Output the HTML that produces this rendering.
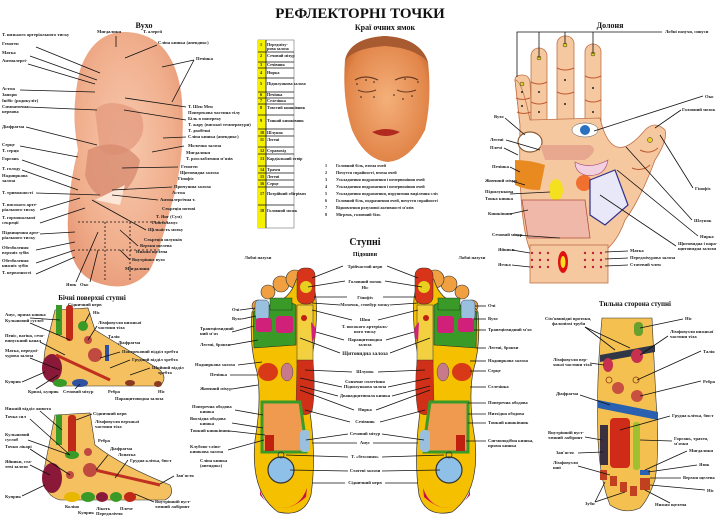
<!DOCTYPE html>
<html><head><meta charset="utf-8"><style>
html,body{margin:0;padding:0;background:#fff;}
svg{display:block;font-family:"Liberation Serif","Noto Serif CJK SC",serif;}
.t{font-size:4.6px;font-weight:bold;fill:#222;}
.h{font-weight:bold;fill:#111;}
line,polyline{stroke:#111;stroke-width:0.8;fill:none;}
</style></head><body>
<svg width="720" height="528" viewBox="0 0 720 528" xmlns="http://www.w3.org/2000/svg">
<defs>
<radialGradient id="ear" cx="50%" cy="45%" r="60%"><stop offset="0" stop-color="#f7c9ae"/><stop offset="0.7" stop-color="#f0ae8c"/><stop offset="1" stop-color="#e89a78"/></radialGradient>
<radialGradient id="face" cx="50%" cy="50%" r="60%"><stop offset="0" stop-color="#f4b07a"/><stop offset="0.8" stop-color="#e2864a"/><stop offset="1" stop-color="#c86a30"/></radialGradient>
<g id="foot">
  <circle cx="258" cy="306" r="6" fill="#f0a040" stroke="#333" stroke-width="0.6"/>
  <circle cx="268" cy="292" r="7" fill="#f0a040" stroke="#333" stroke-width="0.6"/>
  <circle cx="281" cy="284" r="8" fill="#f0a040" stroke="#333" stroke-width="0.6"/>
  <circle cx="295" cy="279" r="9" fill="#f0a040" stroke="#333" stroke-width="0.6"/>
  <path d="M252,312 Q249,345 257,372 Q262,400 255,440 Q250,492 278,512 Q304,518 311,495 Q316,460 311,420 Q306,385 314,345 Q320,300 312,282 Q305,265 296,280 Q290,300 270,305 Q255,305 252,312Z" fill="#f5c000" stroke="#333" stroke-width="0.7"/>
  <rect x="297" y="268" width="18" height="36" rx="7" fill="#d8341a" stroke="#333" stroke-width="0.5"/>
  <circle cx="306" cy="287" r="6" fill="#e8d020"/>
  <path d="M253,312 Q262,306 290,302 L296,305 L296,345 L254,348 Z" fill="#3a9a28" stroke="#222" stroke-width="0.5"/>
  <rect x="255" y="300" width="14" height="20" rx="4" fill="#9ac0e0" stroke="#222" stroke-width="0.4"/>
  <rect x="256" y="318" width="16" height="14" rx="3" fill="#d0207a"/>
  <rect x="276" y="316" width="17" height="17" rx="3" fill="#d0207a"/>
  <rect x="270" y="298" width="22" height="12" fill="#3a9a28" stroke="#222" stroke-width="0.4"/>
  <rect x="297" y="305" width="16" height="58" fill="#f2d040" stroke="#333" stroke-width="0.5"/>
  <circle cx="304" cy="318" r="3" fill="#c02010"/>
  <path d="M311,322 Q320,330 312,342 Z" fill="#d0207a"/>
  <path d="M297,360 L313,360 Q316,390 312,412 Q300,420 296,405 Z" fill="#d03018" stroke="#333" stroke-width="0.4"/>
  <ellipse cx="268" cy="372" rx="10" ry="9" fill="#d83a18"/>
  <ellipse cx="287" cy="372" rx="6" ry="9" fill="#c87a8a" stroke="#333" stroke-width="0.4"/>
  <path d="M262,402 L300,402 L306,445 L306,452 L262,452 Z" fill="#f09a50" stroke="#3a9a28" stroke-width="3"/>
  <rect x="300" y="430" width="10" height="22" rx="4" fill="#9ac0e0"/>
  <rect x="265" y="435" width="9" height="16" fill="#c02010"/>
  <circle cx="281" cy="470" r="13" fill="#8ec0e8" stroke="#333" stroke-width="1.2"/>
  <circle cx="281" cy="455" r="3" fill="none" stroke="#333" stroke-width="0.8"/>
  <path d="M260,495 Q280,520 306,497 L307,488 Q300,508 281,508 Q264,506 260,490 Z" fill="#c8104a"/>
</g>
</defs>

<text x="360" y="18" class="h" font-size="15" text-anchor="middle">РЕФЛЕКТОРНІ  ТОЧКИ</text>

<!-- EAR -->
<text x="144" y="28" class="h" font-size="8" text-anchor="middle">Вухо</text>
<path d="M120,32 Q175,30 182,100 Q186,160 170,210 Q160,250 150,270 Q130,295 95,282 Q65,270 68,215 Q70,180 78,150 Q70,110 80,70 Q92,35 120,32Z" fill="url(#ear)"/>
<path d="M95,110 Q110,95 140,112 Q150,135 130,150 Q110,160 100,150 Z" fill="#e2977a" opacity="0.7"/>
<path d="M88,150 Q120,135 140,160 Q135,190 110,200 Q90,195 85,175Z" fill="#d88c70" opacity="0.8"/>
<path d="M95,200 L125,185 L120,205 Z" fill="#fbe6d8"/>
<g stroke="#fff" stroke-dasharray="2,2" stroke-width="0.6" fill="none"><line x1="78" y1="222" x2="170" y2="222"/><line x1="78" y1="250" x2="160" y2="250"/><line x1="105" y1="222" x2="105" y2="280"/><line x1="130" y1="222" x2="130" y2="280"/></g>
<g class="t">
<text x="2" y="36">Т. низького артеріального тиску</text><text x="2" y="45">Гемогеп</text><text x="2" y="54">Матка</text><text x="2" y="62">Антиалергі-</text><text x="2" y="90">Астма</text><text x="2" y="96">Запори</text><text x="2" y="102">Інібіс (радикуліт)</text><text x="2" y="108">Симпатична</text><text x="2" y="113">нервова</text><text x="2" y="128">Діафрагма</text><text x="2" y="146">Серце</text><text x="2" y="152">Т. серця</text><text x="2" y="160">Горгань</text><text x="2" y="170">Т. голоду</text><text x="2" y="177">Надниркова</text><text x="2" y="182">залоза</text><text x="2" y="194">Т. тривожності</text><text x="2" y="206">Т. високого арте-</text><text x="2" y="211">ріального тиску</text><text x="2" y="219">Т. гормональної</text><text x="2" y="224">секреції</text><text x="2" y="234">Підвищення арте-</text><text x="2" y="239">ріального тиску</text><text x="2" y="249">Обезболення</text><text x="2" y="254">верхніх зубів</text><text x="2" y="262">Обезболення</text><text x="2" y="267">нижніх зубів</text><text x="2" y="274">Т. нервозності</text>
<text x="97" y="33">Мигдалики</text><text x="143" y="33">Т. алергії</text><text x="158" y="44">Сліпа кишка (апендикс)</text><text x="196" y="60">Печінка</text>
<text x="188" y="108">Т. Шен Мен</text><text x="188" y="114">Поперекова частина тілу</text><text x="188" y="120">Біль в попереку</text><text x="188" y="126">Т. жару (високої температури)</text><text x="188" y="132">Т. двобічні</text><text x="188" y="138">Сліпа кишка (апендикс)</text><text x="188" y="147">Молочна залоза</text><text x="186" y="154">Мигдалики</text><text x="186" y="160">Т. розслаблення м'язів</text><text x="181" y="168">Гемогеп</text><text x="180" y="174">Щитовидна залоза</text><text x="178" y="180">Гіпофіз</text><text x="174" y="188">Причушна залоза</text><text x="172" y="194">Астма</text><text x="160" y="201">Антиалергічна т.</text><text x="162" y="210">Секреція потові</text><text x="156" y="218">Т. Янг (Сум)</text><text x="152" y="224">Гіпоталамус</text><text x="148" y="231">Щільність мозку</text><text x="144" y="241">Секреція шлунків</text><text x="140" y="247">Верхня щелепа</text><text x="136" y="253">Нижня щелепа</text><text x="132" y="261">Внутрішнє вухо</text><text x="125" y="270">Мигдалини</text><text x="66" y="286">Язик</text><text x="80" y="286">Око</text>
</g>
<g>
<line x1="36" y1="47" x2="100" y2="73"/><line x1="30" y1="56" x2="97" y2="80"/><line x1="28" y1="64" x2="95" y2="84"/><line x1="20" y1="90" x2="95" y2="92"/><line x1="28" y1="107" x2="97" y2="110"/><line x1="26" y1="127" x2="97" y2="145"/><line x1="20" y1="146" x2="78" y2="157"/><line x1="22" y1="160" x2="80" y2="180"/><line x1="22" y1="170" x2="78" y2="190"/><line x1="36" y1="193" x2="100" y2="195"/><line x1="40" y1="210" x2="80" y2="198"/><line x1="40" y1="223" x2="85" y2="208"/><line x1="40" y1="234" x2="75" y2="232"/><line x1="36" y1="250" x2="75" y2="242"/><line x1="36" y1="263" x2="75" y2="250"/><line x1="36" y1="274" x2="75" y2="257"/>
<line x1="186" y1="107" x2="125" y2="98"/><line x1="186" y1="120" x2="124" y2="110"/><line x1="186" y1="137" x2="163" y2="138"/><line x1="184" y1="146" x2="152" y2="152"/><line x1="178" y1="167" x2="122" y2="168"/><line x1="172" y1="187" x2="112" y2="190"/><line x1="158" y1="200" x2="112" y2="195"/><line x1="146" y1="230" x2="92" y2="200"/><line x1="138" y1="246" x2="120" y2="230"/><line x1="130" y1="260" x2="120" y2="250"/>
<line x1="76" y1="282" x2="98" y2="232"/><line x1="90" y1="282" x2="98" y2="250"/><line x1="157" y1="45" x2="125" y2="58"/><line x1="194" y1="60" x2="162" y2="67"/><line x1="194" y1="60" x2="172" y2="102"/><line x1="116" y1="36" x2="116" y2="47"/>
</g>

<!-- TABLE -->
<g font-size="4.2" font-weight="bold" fill="#222">
<rect x="258" y="40" width="36" height="188" fill="#fff" stroke="#555" stroke-width="0.5"/>
<rect x="258" y="40" width="8" height="188" fill="#f5f000"/>
<g stroke="#666" stroke-width="0.4">
<line x1="258" y1="52" x2="294" y2="52"/><line x1="258" y1="62" x2="294" y2="62"/><line x1="258" y1="68" x2="294" y2="68"/><line x1="258" y1="78" x2="294" y2="78"/><line x1="258" y1="92" x2="294" y2="92"/><line x1="258" y1="98" x2="294" y2="98"/><line x1="258" y1="104" x2="294" y2="104"/><line x1="258" y1="115" x2="294" y2="115"/><line x1="258" y1="129" x2="294" y2="129"/><line x1="258" y1="136" x2="294" y2="136"/><line x1="258" y1="147" x2="294" y2="147"/><line x1="258" y1="154" x2="294" y2="154"/><line x1="258" y1="166" x2="294" y2="166"/><line x1="258" y1="173" x2="294" y2="173"/><line x1="258" y1="180" x2="294" y2="180"/><line x1="258" y1="187" x2="294" y2="187"/><line x1="258" y1="205" x2="294" y2="205"/><line x1="266" y1="40" x2="266" y2="228"/>
</g>
<text x="260" y="46">1</text><text x="267" y="46">Передміху-</text><text x="267" y="50">рова залоза</text>
<text x="260" y="57">2</text><text x="267" y="57">Сечовий міхур</text>
<text x="260" y="66">3</text><text x="267" y="66">Сечівник</text>
<text x="260" y="74">4</text><text x="267" y="74">Нирка</text>
<text x="260" y="85">5</text><text x="267" y="85">Підшлункова залоза</text>
<text x="260" y="96">6</text><text x="267" y="96">Печінка</text>
<text x="260" y="102">7</text><text x="267" y="102">Селезінка</text>
<text x="260" y="109">8</text><text x="267" y="109">Товстий кишківник</text>
<text x="260" y="122">9</text><text x="267" y="122">Тонкий кишківник</text>
<text x="260" y="134">10</text><text x="267" y="134">Шлунок</text>
<text x="260" y="141">11</text><text x="267" y="141">Легені</text>
<text x="260" y="152">12</text><text x="267" y="152">Стравохід</text>
<text x="260" y="160">13</text><text x="267" y="160">Кардіальний отвір</text>
<text x="260" y="171">14</text><text x="267" y="171">Трахея</text>
<text x="260" y="178">15</text><text x="267" y="178">Легені</text>
<text x="260" y="185">16</text><text x="267" y="185">Серце</text>
<text x="260" y="195">17</text><text x="267" y="195">Потрійний обігрівач</text>
<text x="260" y="212">18</text><text x="267" y="212">Головний мозок</text>
</g>

<!-- FACE -->
<text x="385" y="30" class="h" font-size="8" text-anchor="middle">Краї очних ямок</text>
<path d="M345,60 Q350,38 385,36 Q420,38 428,62 Q432,100 425,130 Q410,160 388,162 Q365,160 352,130 Q342,100 345,60Z" fill="url(#face)"/>
<path d="M345,60 Q350,38 385,36 Q420,38 428,62 Q415,48 385,46 Q355,48 345,60Z" fill="#a85a30"/>
<path d="M355,80 Q365,74 378,80" stroke="#6a3a20" stroke-width="1.2" fill="none"/>
<path d="M395,80 Q408,74 418,80" stroke="#6a3a20" stroke-width="1.2" fill="none"/>
<path d="M358,90 Q366,94 376,90" stroke="#6a3a20" stroke-width="1" fill="none"/>
<path d="M397,90 Q406,94 416,90" stroke="#6a3a20" stroke-width="1" fill="none"/>
<path d="M372,132 Q386,126 400,132 Q386,140 372,132Z" fill="#b02a20"/>
<g fill="#222"><circle cx="357" cy="84" r="0.8"/><circle cx="366" cy="80" r="0.8"/><circle cx="374" cy="82" r="0.8"/><circle cx="361" cy="97" r="0.8"/><circle cx="374" cy="97" r="0.8"/><circle cx="394" cy="95" r="0.8"/><circle cx="403" cy="99" r="0.8"/><circle cx="412" cy="96" r="0.8"/><circle cx="405" cy="79" r="0.8"/><circle cx="418" cy="82" r="0.8"/></g>
<g font-size="4.2" font-weight="bold" fill="#222">
<text x="325" y="167">1</text><text x="336" y="167">Головний біль, втома очей</text>
<text x="325" y="174">2</text><text x="336" y="174">Почуття спрайності, втома очей</text>
<text x="325" y="181">3</text><text x="336" y="181">Ускладнення подразнення і почервоніння очей</text>
<text x="325" y="188">4</text><text x="336" y="188">Ускладнення подразнення і почервоніння очей</text>
<text x="325" y="195">5</text><text x="336" y="195">Ускладнення подразнення, порушення виділення сліз</text>
<text x="325" y="202">6</text><text x="336" y="202">Головний біль, подразнення очей, почуття спрайності</text>
<text x="325" y="209">7</text><text x="336" y="209">Відновлення розумової активності м'язів</text>
<text x="325" y="216">8</text><text x="336" y="216">Мігрень, головний біль</text>
</g>

<!-- HAND -->
<text x="610" y="28" class="h" font-size="8" text-anchor="middle">Долоня</text>
<g fill="#f6c8a0" stroke="#c07048" stroke-width="0.8">
<path d="M515,80 Q515,75 522,75 Q529,75 530,82 L532,120 L520,125 Z"/>
<rect x="531" y="48" width="16" height="80" rx="8"/>
<rect x="557" y="36" width="17" height="90" rx="8"/>
<rect x="585" y="44" width="16" height="85" rx="8"/>
<path d="M520,125 L515,80 Q522,80 530,120 L600,118 Q612,170 645,130 Q655,120 665,130 Q668,140 655,160 Q640,200 625,220 Q618,240 606,250 L530,250 Q518,220 520,125Z"/>
<rect x="530" y="245" width="78" height="38" fill="#f6c8a0"/>
</g>
<g stroke="#c05a30" stroke-width="1" fill="none">
<path d="M516,98 Q522,101 530,98"/><path d="M517,112 Q523,115 531,112"/>
<path d="M531,82 Q539,86 547,82"/><path d="M531,102 Q539,106 547,102"/>
<path d="M557,68 Q565,72 574,68"/><path d="M557,92 Q565,96 574,92"/>
<path d="M585,76 Q593,80 601,76"/><path d="M585,100 Q593,104 601,100"/>
<path d="M640,150 Q650,155 658,148"/><path d="M632,168 Q642,172 650,165"/>
</g>
<g fill="#222"><circle cx="522" cy="92" r="1"/><circle cx="522" cy="106" r="1"/><circle cx="539" cy="92" r="1"/><circle cx="539" cy="112" r="1"/><circle cx="565" cy="80" r="1"/><circle cx="565" cy="104" r="1"/><circle cx="593" cy="88" r="1"/><circle cx="593" cy="112" r="1"/></g>
<g fill="#e8d020" stroke="#333" stroke-width="0.5"><circle cx="522" cy="84" r="2"/><circle cx="539" cy="58" r="2"/><circle cx="565" cy="45" r="2"/><circle cx="593" cy="54" r="2"/><circle cx="650" cy="140" r="2.5"/></g>
<ellipse cx="530" cy="142" rx="12" ry="10" fill="#fff" stroke="#8a5a30" stroke-width="1.2"/>
<ellipse cx="585" cy="130" rx="13" ry="7" fill="#fff" stroke="#555" stroke-width="0.5"/>
<circle cx="585" cy="130" r="5" fill="#2a70c0"/>
<path d="M540,145 L590,145 Q600,150 585,160 L545,160Z" fill="#e8a890"/>
<path d="M515,160 Q530,160 545,165 L540,190 Q525,190 515,185Z" fill="#e88a20"/>
<ellipse cx="556" cy="190" rx="7" ry="11" fill="#f5e020"/>
<path d="M575,162 Q590,170 608,160 Q605,178 585,175 Q575,172 575,162Z" fill="#f3d0e0" stroke="#a04070" stroke-width="0.6"/>
<circle cx="584" cy="183" r="8" fill="#f07030"/>
<path d="M590,180 L615,170 L628,205 L605,225 L590,215Z" fill="#e8e8f8" stroke="#303090" stroke-width="1.2"/>
<path d="M522,200 L585,200 L590,238 L528,238Z" fill="#f0b8a8" stroke="#b05040" stroke-width="0.8"/>
<ellipse cx="563" cy="262" rx="5" ry="11" fill="#e01010"/><ellipse cx="563" cy="262" rx="2.5" ry="6" fill="#f8e020"/>
<g fill="#c02040"><circle cx="532" cy="253" r="1.2"/><circle cx="540" cy="253" r="1.2"/><circle cx="548" cy="253" r="1.2"/><circle cx="532" cy="260" r="1.2"/><circle cx="540" cy="260" r="1.2"/><circle cx="548" cy="260" r="1.2"/><circle cx="532" cy="267" r="1.2"/><circle cx="540" cy="267" r="1.2"/><circle cx="548" cy="267" r="1.2"/><circle cx="585" cy="253" r="1.2"/><circle cx="593" cy="253" r="1.2"/><circle cx="601" cy="253" r="1.2"/><circle cx="585" cy="260" r="1.2"/><circle cx="593" cy="260" r="1.2"/><circle cx="601" cy="260" r="1.2"/><circle cx="585" cy="267" r="1.2"/><circle cx="593" cy="267" r="1.2"/><circle cx="601" cy="267" r="1.2"/></g>
<g class="t">
<text x="665" y="33">Лобні пазухи, синуси</text><text x="705" y="98">Око</text><text x="682" y="111">Головний мозок</text><text x="695" y="190">Гіпофіз</text><text x="694" y="222">Шлунок</text><text x="700" y="238">Нирка</text><text x="678" y="245">Щитовидна і пара-</text><text x="678" y="250">щитовидна залози</text>
<text x="494" y="118">Вухо</text><text x="490" y="141">Легені</text><text x="490" y="149">Плечі</text><text x="492" y="168">Печінка</text><text x="485" y="182">Жовчний міхур</text><text x="485" y="193">Підшлункова</text><text x="485" y="200">Тонка кишка</text><text x="488" y="215">Кишківник</text><text x="492" y="236">Сечовий міхур</text><text x="498" y="251">Яйники</text><text x="498" y="266">Яєчка</text>
<text x="630" y="252">Матка</text><text x="630" y="259">Передміхурова залоза</text><text x="630" y="266">Статевий член</text>
</g>
<g>
<polyline points="517,77 517,32 662,32"/><line x1="539" y1="32" x2="539" y2="58"/><line x1="565" y1="32" x2="565" y2="44"/><line x1="593" y1="32" x2="593" y2="54"/>
<line x1="703" y1="96" x2="594" y2="131"/><line x1="681" y1="110" x2="655" y2="128"/><line x1="693" y1="188" x2="660" y2="135"/><line x1="692" y1="220" x2="626" y2="147"/><line x1="698" y1="236" x2="617" y2="170"/><line x1="676" y1="246" x2="600" y2="195"/>
<line x1="505" y1="118" x2="525" y2="135"/><line x1="506" y1="140" x2="540" y2="150"/><line x1="504" y1="148" x2="518" y2="155"/><line x1="510" y1="167" x2="520" y2="172"/><line x1="512" y1="181" x2="525" y2="185"/><line x1="510" y1="194" x2="550" y2="192"/><line x1="510" y1="214" x2="528" y2="210"/><line x1="515" y1="235" x2="560" y2="238"/><line x1="512" y1="250" x2="530" y2="253"/><line x1="512" y1="265" x2="530" y2="267"/><line x1="605" y1="252" x2="628" y2="251"/><line x1="605" y1="259" x2="628" y2="258"/><line x1="605" y1="266" x2="628" y2="265"/>
</g>

<!-- FEET -->
<text x="365" y="245" class="h" font-size="10" text-anchor="middle">Ступні</text>
<text x="365" y="256" class="h" font-size="6" text-anchor="middle">Підошви</text>
<use href="#foot"/>
<use href="#foot" transform="translate(730,0) scale(-1,1)"/>
<g class="t" text-anchor="middle">
<text x="365" y="268">Трійчастий нерв</text><text x="365" y="283">Головний мозок</text><text x="365" y="289">Ніс</text><text x="365" y="299">Гіпофіз</text><text x="365" y="306">Мозочок, стовбур мозку</text><text x="365" y="321">Шия</text><text x="365" y="328">Т. високого артеріаль-</text><text x="365" y="333">ного тиску</text><text x="365" y="341">Паращитовидна</text><text x="365" y="346">залоза</text><text x="365" y="355" font-size="5.4">Щитовидна залоза</text><text x="365" y="373">Шлунок</text><text x="365" y="383">Сонячне сплетіння</text><text x="365" y="388">Підшлункова залоза</text><text x="365" y="397">Дванадцятипала кишка</text><text x="365" y="411">Нирка</text><text x="365" y="423">Сечівник</text><text x="365" y="435">Сечовий міхур</text><text x="365" y="444">Анус</text><text x="365" y="458">Т. «безсоння»</text><text x="365" y="472">Статеві залози</text><text x="365" y="484">Сідничний нерв</text>
<text x="258" y="259">Лобні пазухи</text><text x="472" y="259">Лобні пазухи</text>
</g>
<g>
<line x1="343" y1="266" x2="312" y2="278"/><line x1="387" y1="266" x2="418" y2="278"/>
<line x1="345" y1="281" x2="308" y2="287"/><line x1="385" y1="281" x2="422" y2="287"/>
<line x1="347" y1="297" x2="314" y2="297"/><line x1="383" y1="297" x2="416" y2="297"/>
<line x1="340" y1="305" x2="312" y2="303"/><line x1="390" y1="305" x2="418" y2="303"/>
<line x1="352" y1="320" x2="312" y2="310"/><line x1="378" y1="320" x2="418" y2="310"/>
<line x1="344" y1="340" x2="316" y2="332"/><line x1="386" y1="340" x2="414" y2="332"/>
<line x1="340" y1="353" x2="300" y2="338"/><line x1="390" y1="353" x2="430" y2="338"/>
<line x1="352" y1="372" x2="305" y2="370"/><line x1="378" y1="372" x2="425" y2="370"/>
<line x1="342" y1="387" x2="300" y2="378"/><line x1="388" y1="387" x2="430" y2="378"/>
<line x1="338" y1="396" x2="300" y2="386"/><line x1="392" y1="396" x2="430" y2="386"/>
<line x1="354" y1="410" x2="300" y2="390"/><line x1="376" y1="410" x2="430" y2="390"/>
<line x1="350" y1="422" x2="305" y2="410"/><line x1="380" y1="422" x2="425" y2="410"/>
<line x1="348" y1="434" x2="306" y2="440"/><line x1="382" y1="434" x2="424" y2="440"/>
<line x1="357" y1="443" x2="312" y2="443"/><line x1="373" y1="443" x2="418" y2="443"/>
<line x1="348" y1="457" x2="286" y2="455"/><line x1="382" y1="457" x2="444" y2="455"/>
<line x1="348" y1="471" x2="290" y2="470"/><line x1="382" y1="471" x2="440" y2="470"/>
<line x1="345" y1="483" x2="312" y2="483"/><line x1="385" y1="483" x2="418" y2="483"/>
</g>
<g class="t">
<text x="232" y="311">Очі</text><text x="232" y="320">Вухо</text><text x="200" y="330">Трапецієвидний</text><text x="200" y="335">ний м'яз</text><text x="200" y="346">Легені, бронхи</text><text x="195" y="366">Надниркова залоза</text><text x="210" y="376">Печінка</text><text x="200" y="390">Жовчний міхур</text><text x="192" y="408">Поперечна ободова</text><text x="200" y="413">кишка</text><text x="190" y="420">Висхідна ободова</text><text x="200" y="425">кишка</text><text x="190" y="432">Тонкий кишківник</text><text x="190" y="448">Клубово-сліпо-</text><text x="190" y="453">кишкова залоза</text><text x="200" y="462">Сліпа кишка</text><text x="200" y="467">(апендикс)</text>
<text x="488" y="307">Очі</text><text x="488" y="320">Вухо</text><text x="488" y="331">Трапецієвидний м'яз</text><text x="488" y="349">Легені, бронхи</text><text x="488" y="362">Надниркова залоза</text><text x="488" y="372">Серце</text><text x="488" y="388">Селезінка</text><text x="488" y="404">Поперечна ободова</text><text x="488" y="415">Низхідна ободова</text><text x="488" y="424">Тонкий кишківник</text><text x="488" y="442">Сигмоподібна кишка,</text><text x="488" y="447">пряма кишка</text>
</g>
<g><line x1="240" y1="310" x2="255" y2="308"/><line x1="242" y1="319" x2="256" y2="316"/><line x1="232" y1="332" x2="254" y2="326"/><line x1="230" y1="345" x2="258" y2="340"/><line x1="238" y1="365" x2="262" y2="362"/><line x1="230" y1="375" x2="258" y2="375"/><line x1="232" y1="389" x2="258" y2="385"/><line x1="235" y1="410" x2="263" y2="415"/><line x1="232" y1="423" x2="263" y2="428"/><line x1="230" y1="431" x2="265" y2="435"/><line x1="228" y1="450" x2="264" y2="440"/>
<line x1="475" y1="306" x2="486" y2="306"/><line x1="474" y1="319" x2="486" y2="319"/><line x1="474" y1="330" x2="486" y2="330"/><line x1="476" y1="348" x2="486" y2="348"/><line x1="470" y1="361" x2="486" y2="361"/><line x1="470" y1="371" x2="486" y2="371"/><line x1="470" y1="387" x2="486" y2="387"/><line x1="468" y1="403" x2="486" y2="403"/><line x1="468" y1="414" x2="486" y2="414"/><line x1="468" y1="423" x2="486" y2="423"/><line x1="466" y1="441" x2="486" y2="441"/></g>

<!-- SIDE FEET -->
<text x="92" y="300" class="h" font-size="7" text-anchor="middle">Бічні поверхні ступні</text>
<g>
<path d="M55,310 L88,308 L95,330 Q120,345 160,370 Q168,378 160,386 L60,386 Q40,380 45,350 Z" fill="#f4c060" stroke="#333" stroke-width="0.6"/>
<rect x="66" y="305" width="7" height="36" rx="3" fill="#c02818"/><rect x="56" y="305" width="6" height="30" fill="#3a9a28"/>
<ellipse cx="83" cy="326" rx="5" ry="5" fill="#3a9a28"/>
<ellipse cx="52" cy="368" rx="10" ry="14" fill="#8a1838"/>
<path d="M56,355 L110,380" stroke="#c03020" stroke-width="3"/>
<ellipse cx="95" cy="355" rx="7" ry="7" fill="#c04a40"/><ellipse cx="88" cy="340" rx="4" ry="4" fill="#c04a40"/>
<rect x="105" y="345" width="4" height="16" fill="#3050a0"/>
<ellipse cx="80" cy="383" rx="8" ry="4" fill="#3050a0"/><ellipse cx="60" cy="383" rx="7" ry="4" fill="#3a9a28"/><ellipse cx="130" cy="383" rx="5" ry="3" fill="#8a3a20"/><ellipse cx="158" cy="384" rx="4" ry="3" fill="#8a3a20"/>
</g>
<g>
<path d="M55,415 L90,413 L95,445 Q120,465 170,485 Q175,495 165,500 L60,500 Q40,495 45,465 Z" fill="#f4c060" stroke="#333" stroke-width="0.6"/>
<rect x="68" y="415" width="8" height="40" rx="3" fill="#c02818"/><rect x="56" y="415" width="6" height="30" fill="#3a9a28"/>
<ellipse cx="72" cy="455" rx="7" ry="4" fill="#3a9a28"/>
<ellipse cx="52" cy="478" rx="10" ry="15" fill="#8a1838"/>
<path d="M95,470 L160,485" stroke="#c03020" stroke-width="3"/>
<ellipse cx="90" cy="470" rx="7" ry="7" fill="#c04a40"/><ellipse cx="88" cy="452" rx="4" ry="4" fill="#c04a40"/><ellipse cx="70" cy="475" rx="4" ry="4" fill="#c04a40"/>
<ellipse cx="72" cy="497" rx="8" ry="5" fill="#e8b800"/><ellipse cx="88" cy="497" rx="7" ry="5" fill="#3a9a28"/><ellipse cx="102" cy="497" rx="6" ry="5" fill="#8a1838"/><ellipse cx="116" cy="497" rx="6" ry="5" fill="#3a9a28"/><ellipse cx="130" cy="497" rx="6" ry="5" fill="#c02818"/>
</g>
<g class="t">
<text x="5" y="316">Анус, пряма кишка</text><text x="5" y="322">Кульшовий суглоб</text><text x="5" y="337">Пеніс, вагіна, сечо-</text><text x="5" y="342">випускний канал</text><text x="5" y="352">Матка, передмі-</text><text x="5" y="357">хурова залоза</text><text x="5" y="383">Куприк</text><text x="28" y="393">Крижі, куприк</text><text x="63" y="393">Сечовий міхур</text><text x="68" y="306">Сідничний нерв</text><text x="93" y="314">Ніс</text><text x="98" y="324">Лімфовузли нижньої</text><text x="98" y="329">частини тіла</text><text x="108" y="338">Талія</text><text x="118" y="344">Діафрагма</text><text x="122" y="353">Поперековий відділ хребта</text><text x="132" y="361">Грудний відділ хребта</text><text x="152" y="369">Шийний відділ</text><text x="158" y="374">хребта</text><text x="108" y="393">Ребра</text><text x="115" y="400">Паращитовидна залоза</text><text x="158" y="393">Ніс</text>
<text x="5" y="410">Нижній відділ живота</text><text x="5" y="418">Точка сил</text><text x="5" y="436">Кульшовий</text><text x="5" y="441">суглоб</text><text x="5" y="448">Точки лікарі</text><text x="5" y="463">Яйники, ста-</text><text x="5" y="468">теві залози</text><text x="5" y="498">Куприк</text><text x="93" y="415">Сідничний нерв</text><text x="95" y="423">Лімфовузли верхньої</text><text x="95" y="428">частини тіла</text><text x="98" y="442">Ребра</text><text x="110" y="450">Діафрагма</text><text x="118" y="456">Лопатка</text><text x="130" y="462">Грудна клітка, бюст</text><text x="176" y="477">Зап'ястя</text><text x="155" y="503">Внутрішній вуст-</text><text x="155" y="508">тачний лабіринт</text><text x="65" y="508">Коліно</text><text x="78" y="514">Куприк</text><text x="96" y="510">Лікоть</text><text x="96" y="515">Передпліччя</text><text x="120" y="510">Плече</text>
</g>
<g><line x1="30" y1="318" x2="60" y2="320"/><line x1="30" y1="323" x2="70" y2="340"/><line x1="40" y1="342" x2="65" y2="355"/><line x1="30" y1="358" x2="60" y2="370"/><line x1="22" y1="382" x2="45" y2="372"/><line x1="36" y1="389" x2="58" y2="375"/><line x1="75" y1="389" x2="80" y2="384"/><line x1="90" y1="313" x2="85" y2="322"/><line x1="97" y1="326" x2="88" y2="340"/><line x1="120" y1="352" x2="100" y2="358"/><line x1="130" y1="360" x2="110" y2="368"/><line x1="150" y1="368" x2="130" y2="375"/>
<line x1="40" y1="411" x2="62" y2="430"/><line x1="30" y1="419" x2="70" y2="455"/><line x1="28" y1="440" x2="70" y2="455"/><line x1="30" y1="449" x2="70" y2="475"/><line x1="30" y1="465" x2="50" y2="475"/><line x1="22" y1="496" x2="45" y2="485"/><line x1="92" y1="414" x2="76" y2="420"/><line x1="108" y1="455" x2="96" y2="470"/><line x1="128" y1="460" x2="115" y2="478"/><line x1="174" y1="476" x2="160" y2="484"/><line x1="154" y1="502" x2="135" y2="494"/></g>

<!-- DORSAL FOOT -->
<text x="635" y="306" class="h" font-size="7" text-anchor="middle">Тильна сторона ступні</text>
<path d="M602,318 L652,318 Q654,360 656,400 Q660,450 655,480 Q648,500 640,508 Q625,515 610,505 Q600,480 598,440 Q596,380 602,318Z" fill="#f4c050" stroke="#333" stroke-width="0.6"/>
<rect x="634" y="322" width="9" height="14" rx="4" fill="#6aa030"/>
<path d="M600,355 L655,345 L655,352 L600,362Z" fill="#303848"/>
<ellipse cx="608" cy="365" rx="5" ry="7" fill="#c83050"/><ellipse cx="637" cy="356" rx="6" ry="7" fill="#c83050"/>
<circle cx="609" cy="380" r="3" fill="none" stroke="#8a3a10" stroke-width="0.8"/><circle cx="636" cy="380" r="3" fill="none" stroke="#8a3a10" stroke-width="0.8"/>
<ellipse cx="618" cy="388" rx="6" ry="6" fill="#c85040"/><ellipse cx="637" cy="396" rx="6" ry="6" fill="#c85040"/>
<path d="M598,400 L658,412 L658,420 L598,408Z" fill="#2a60b0"/>
<rect x="610" y="418" width="20" height="50" rx="4" fill="#d02a18"/>
<rect x="600" y="425" width="8" height="40" fill="#3a3040"/>
<rect x="633" y="422" width="7" height="48" rx="3" fill="#a0c030"/>
<g fill="#c04020"><rect x="600" y="470" width="7" height="10"/><rect x="610" y="476" width="7" height="10"/><rect x="620" y="482" width="7" height="10"/><rect x="630" y="486" width="7" height="10"/><rect x="640" y="478" width="10" height="12"/></g>
<rect x="640" y="470" width="10" height="5" fill="#2a60b0"/>
<g class="t">
<text x="545" y="320">Сім'явивідні протоки,</text><text x="552" y="325">фалопієві труби</text><text x="685" y="320">Ніс</text><text x="670" y="333">Лімфовузли нижньої</text><text x="670" y="338">частини тіла</text><text x="703" y="353">Талія</text><text x="703" y="383">Ребра</text><text x="553" y="361">Лімфовузли вер-</text><text x="553" y="366">хньої частини тіла</text><text x="556" y="395">Діафрагма</text><text x="672" y="417">Грудна клітка, бюст</text><text x="548" y="434">Внутрішній вуст-</text><text x="548" y="439">тачний лабіринт</text><text x="674" y="440">Горгань, трахея,</text><text x="674" y="445">м'язки</text><text x="556" y="454">Зап'ястя</text><text x="689" y="452">Мигдалики</text><text x="553" y="464">Лімфовузли</text><text x="553" y="469">шиї</text><text x="699" y="466">Язик</text><text x="683" y="479">Верхня щелепа</text><text x="707" y="492">Ніс</text><text x="585" y="505">Зуби</text><text x="655" y="506">Нижня щелепа</text>
</g>
<g><line x1="683" y1="319" x2="640" y2="328"/><line x1="668" y1="336" x2="640" y2="355"/><line x1="701" y1="351" x2="637" y2="380"/><line x1="701" y1="381" x2="640" y2="396"/><line x1="585" y1="327" x2="615" y2="350"/><line x1="585" y1="327" x2="630" y2="348"/><line x1="590" y1="363" x2="604" y2="365"/><line x1="580" y1="395" x2="610" y2="405"/><line x1="670" y1="416" x2="620" y2="430"/><line x1="585" y1="437" x2="602" y2="440"/><line x1="672" y1="441" x2="640" y2="440"/><line x1="578" y1="453" x2="603" y2="452"/><line x1="687" y1="451" x2="645" y2="470"/><line x1="697" y1="465" x2="648" y2="472"/><line x1="681" y1="478" x2="650" y2="478"/><line x1="705" y1="490" x2="650" y2="485"/><line x1="595" y1="502" x2="605" y2="482"/><line x1="595" y1="502" x2="625" y2="492"/><line x1="670" y1="503" x2="645" y2="490"/><line x1="578" y1="466" x2="610" y2="475"/></g>
</svg>
</body></html>
